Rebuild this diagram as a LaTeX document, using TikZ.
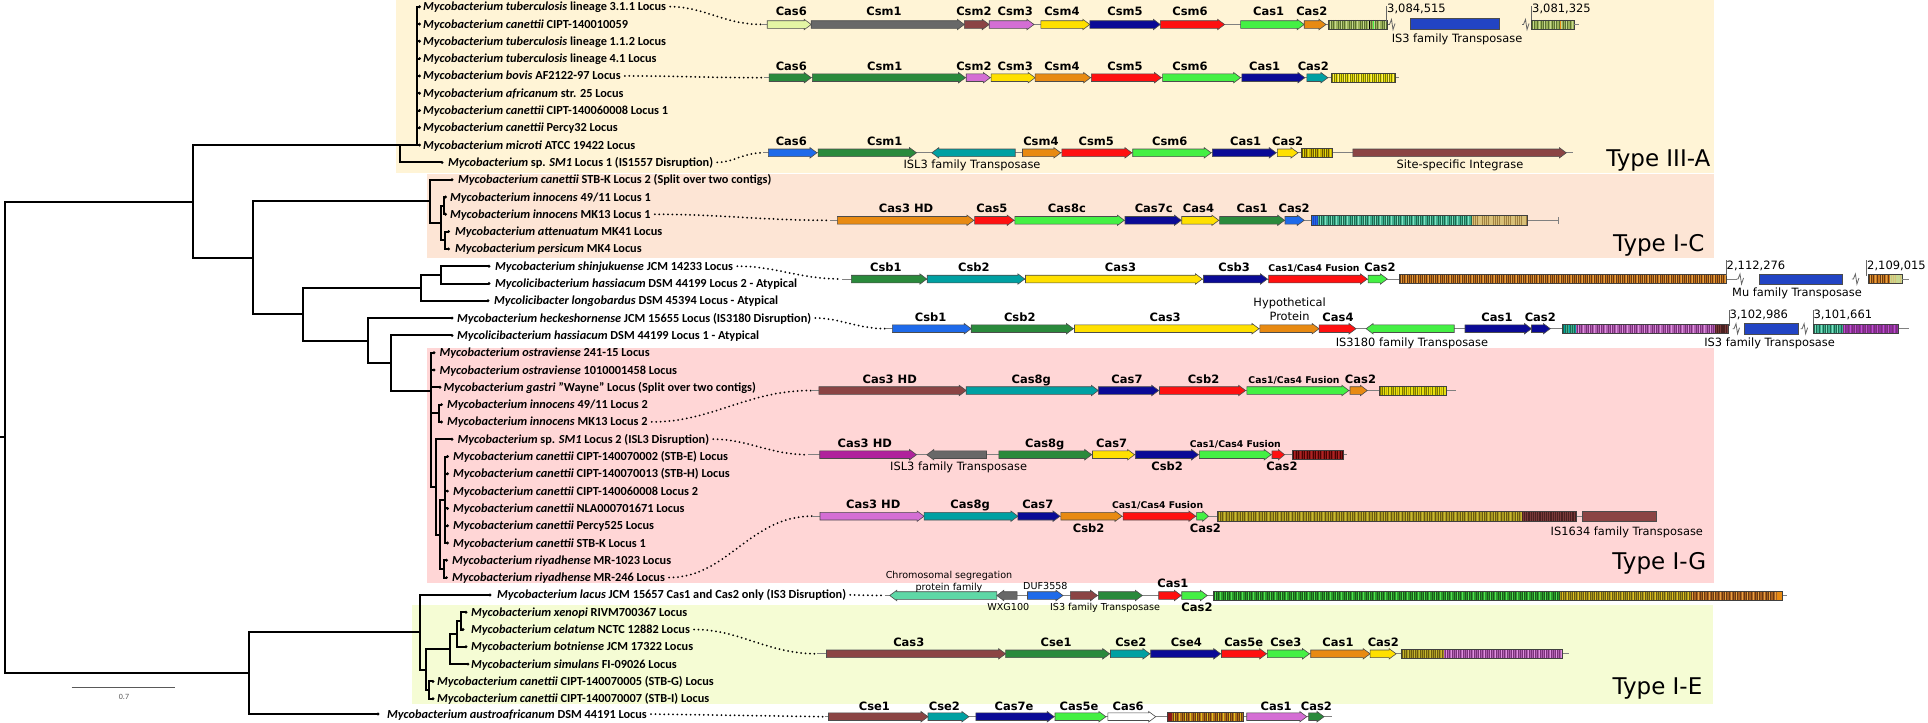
\documentclass[tikz,border=0pt]{standalone}
\usepackage{fontspec}
\setmainfont{Carlito}
\newfontfamily\dvs{DejaVu Sans}
\definecolor{bgA}{HTML}{FFF4D6}
\definecolor{bgC}{HTML}{FDE5D5}
\definecolor{bgG}{HTML}{FFD6D6}
\definecolor{bgE}{HTML}{F5FCD4}
\definecolor{cLYG}{HTML}{E4F5A4}
\definecolor{cGray}{HTML}{686868}
\definecolor{cBrn}{HTML}{8B4444}
\definecolor{cOrc}{HTML}{D46ED4}
\definecolor{cYel}{HTML}{FFE000}
\definecolor{cNavy}{HTML}{0A0A96}
\definecolor{cRed}{HTML}{FF1010}
\definecolor{cGrn}{HTML}{44F044}
\definecolor{cOra}{HTML}{E88A12}
\definecolor{cDkG}{HTML}{2A8A3C}
\definecolor{cTeal}{HTML}{00A0A2}
\definecolor{cBlue}{HTML}{1E6AEA}
\definecolor{cMag}{HTML}{B0229C}
\definecolor{cAqua}{HTML}{5ED8A6}
\definecolor{cIS}{HTML}{2244C4}
\definecolor{kOl}{HTML}{9CB25A}\definecolor{kOlD}{HTML}{5A7030}\definecolor{kOlL}{HTML}{C8D890}
\definecolor{kY}{HTML}{E8E010}\definecolor{kYD}{HTML}{7A7A00}\definecolor{kYL}{HTML}{FFF060}
\definecolor{kYO}{HTML}{C8B000}\definecolor{kYOD}{HTML}{6A5A00}
\definecolor{kTe}{HTML}{40B090}\definecolor{kTeD}{HTML}{1A6A50}\definecolor{kTeL}{HTML}{80E0C0}
\definecolor{kTan}{HTML}{D8C078}\definecolor{kTanD}{HTML}{A08040}
\definecolor{kOB}{HTML}{C87820}\definecolor{kOBD}{HTML}{6A3A10}\definecolor{kOBL}{HTML}{E8A040}
\definecolor{kPu}{HTML}{B060B0}\definecolor{kPuD}{HTML}{7A307A}\definecolor{kPuL}{HTML}{E090E0}
\definecolor{kVi}{HTML}{9030A0}\definecolor{kViL}{HTML}{C050D0}
\definecolor{kDB}{HTML}{4A2020}\definecolor{kDBL}{HTML}{7A3A3A}
\definecolor{kDR}{HTML}{8B1A1A}\definecolor{kDRD}{HTML}{4A0000}\definecolor{kDRL}{HTML}{B02020}
\definecolor{kOv}{HTML}{A89820}\definecolor{kOvD}{HTML}{6A5A10}\definecolor{kOvL}{HTML}{C8B830}
\definecolor{kG}{HTML}{2A9A2A}\definecolor{kGD}{HTML}{1A5A1A}\definecolor{kGL}{HTML}{50E050}
\definecolor{kBr}{HTML}{A86020}
\definecolor{kBrY}{HTML}{B07018}\definecolor{kBrYL}{HTML}{E0C020}

\newcommand{\gn}[4]{%
 \pgfmathsetmacro{\gnhd}{min(7,(#2-#1)*0.5)}\pgfmathsetmacro{\gnxp}{#2-\gnhd}%
 \filldraw[genebd,fill=#4] (#1,#3-3.8) -- (\gnxp,#3-3.8) -- (\gnxp,#3-5.2) -- (#2,#3) -- (\gnxp,#3+5.2) -- (\gnxp,#3+3.8) -- (#1,#3+3.8) -- cycle;}
\newcommand{\gnr}[4]{%
 \pgfmathsetmacro{\gnhd}{min(7,(#2-#1)*0.5)}\pgfmathsetmacro{\gnxp}{#1+\gnhd}%
 \filldraw[genebd,fill=#4] (#2,#3-3.8) -- (\gnxp,#3-3.8) -- (\gnxp,#3-5.2) -- (#1,#3) -- (\gnxp,#3+5.2) -- (\gnxp,#3+3.8) -- (#2,#3+3.8) -- cycle;}
\newcommand{\gbox}[4]{\filldraw[genebd,fill=#4] (#1,#3-5.2) rectangle (#2,#3+5.2);}
\newcommand{\crseg}[6]{%
 \pgfmathsetmacro{\crA}{#1+1.0}\pgfmathsetmacro{\crB}{#1+3.2}\pgfmathsetmacro{\crC}{#2-0.4}%
 \fill[#4] (#1,#3-4.6) rectangle (#2,#3+4.6);
 \foreach \s in {\crA,\crB,...,\crC}{\draw[#5,line width=0.6pt] (\s,#3-4.6) -- (\s,#3+4.6);}
 \pgfmathsetmacro{\crA}{#1+2.1}\pgfmathsetmacro{\crB}{#1+7.6}%
 \foreach \s in {\crA,\crB,...,\crC}{\draw[#6,line width=0.9pt] (\s,#3-4.6) -- (\s,#3+4.6);}}
\newcommand{\crbox}[3]{\draw[crbd] (#1,#3-4.6) rectangle (#2,#3+4.6);}
\newcommand{\glA}[3]{\node[glab] at (#1,#2-7.5) {#3};}
\newcommand{\glB}[3]{\node[glab] at (#1,#2+16) {#3};}
\newcommand{\glF}[3]{\node[flab] at (#1,#2-7.5) {#3};}
\newcommand{\brk}[2]{\draw[bbz] (#1,#2) -- (#1+1.5,#2) -- (#1+3.5,#2-5) -- (#1+5,#2+5) -- (#1+7,#2-1);}
\newcommand{\tck}[2]{\draw[bbz] (#1,#2-3) -- (#1,#2-19);}

\begin{document}
\begin{tikzpicture}[x=1pt,y=-1pt,
 br/.style={line width=2pt,black},
 leaf/.style={anchor=west,inner sep=0pt,font=\bfseries\fontsize{12.3}{14}\selectfont,text height=8pt,text depth=0pt},
 dots/.style={line width=2pt,dash pattern=on 0pt off 4.4pt,line cap=round,shorten <=4pt},
 genebd/.style={draw=black!70,line width=0.6pt,line join=miter},
 crbd/.style={draw=black!75,line width=0.6pt},
 bb/.style={draw=black!50,line width=0.9pt},
 bbz/.style={draw=black!60,line width=0.8pt},
 glab/.style={font={\dvs\bfseries\fontsize{11.5}{13}\selectfont},anchor=base,inner sep=0pt},
 flab/.style={font={\dvs\bfseries\fontsize{9.3}{11}\selectfont},anchor=base,inner sep=0pt},
 alab/.style={font={\dvs\fontsize{11.4}{13}\selectfont},anchor=base,inner sep=0pt},
 slab/.style={font={\dvs\fontsize{9.6}{11}\selectfont},anchor=base,inner sep=0pt},
 nlab/.style={font={\dvs\fontsize{11.5}{13}\selectfont},anchor=base west,inner sep=0pt},
 tlab/.style={font={\dvs\fontsize{23}{26}\selectfont},anchor=base east,inner sep=0pt}]
\useasboundingbox (0,0) rectangle (1928,723);
% ---------- backgrounds ----------
\fill[bgA] (396,0) rectangle (1714,173);
\fill[bgC] (427,174) rectangle (1714,258.3);
\fill[bgG] (427,347.5) rectangle (1714,583.3);
\fill[bgE] (412,605) rectangle (1713,704.3);
% ---------- tree nodes ----------
\coordinate (root) at (4.7,437.35);
\coordinate (nA) at (193,201.6);
\coordinate (nIIIA) at (400,145.1);
\coordinate (nTB) at (417,145.1);
\coordinate (nB) at (252.7,257.5);
\coordinate (nIC) at (430,201.4);
\coordinate (nICb) at (441,223);
\coordinate (nICc) at (443.5,205.65);
\coordinate (nICd) at (445,240.25);
\coordinate (nC) at (302.7,314.2);
\coordinate (nD) at (421,287.8);
\coordinate (nE) at (441,274.85);
\coordinate (nF) at (368.3,340.7);
\coordinate (nG) at (390.7,363.1);
\coordinate (nH) at (431,390.8);
\coordinate (nHb) at (436,487);
\coordinate (nQ) at (440,534.6);
\coordinate (nCan) at (445,499.75);
\coordinate (nRiy) at (444,568.95);
\coordinate (nInn) at (439,413.25);
\coordinate (nJ) at (249.3,673.1);
\coordinate (nK) at (420,632.2);
\coordinate (nL) at (426,669.5);
\coordinate (nM) at (450,649);
\coordinate (nN) at (457,633.8);
\coordinate (nP) at (461,620.85);
\coordinate (nPair) at (429,690.05);
\coordinate (rootstub) at (0,437.35);
% tips
\foreach \i/\yy in {0/6.7,1/24,2/41.3,3/58.6,4/75.9,5/93.2,6/110.5,7/127.8,8/145.1}{\coordinate (t\i) at (419.5,\yy);}
\coordinate (t9) at (442,162.4);
\coordinate (t10) at (452,179.7);
\coordinate (t11) at (445.5,197);\coordinate (t12) at (445.5,214.3);
\coordinate (t13) at (448.5,231.6);\coordinate (t14) at (448.5,248.9);
\coordinate (t15) at (489,266.2);\coordinate (t16) at (489,283.5);\coordinate (t17) at (488,300.8);
\coordinate (t18) at (452,318.1);\coordinate (t19) at (452,335.4);
\coordinate (t20) at (434,352.7);\coordinate (t21) at (434,370);\coordinate (t22) at (440,387.3);
\coordinate (t23) at (441.5,404.6);\coordinate (t24) at (441.5,421.9);
\coordinate (t25) at (452,439.2);
\foreach \i/\yy in {26/456.5,27/473.8,28/491.1,29/508.4,30/525.7,31/543}{\coordinate (t\i) at (447.5,\yy);}
\coordinate (t32) at (446.5,560.3);\coordinate (t33) at (446.5,577.6);
\coordinate (t34) at (490,594.9);
\coordinate (t35) at (466,612.2);\coordinate (t36) at (463,629.5);\coordinate (t37) at (466,646.8);\coordinate (t38) at (468,664.1);
\coordinate (t39) at (433,681.4);\coordinate (t40) at (433,698.7);
\coordinate (t41) at (378,714);
% edges
\draw[br] (rootstub) -- (root);
\foreach \p/\c in {root/nA,root/nJ,nA/nIIIA,nA/nB,nIIIA/nTB,nIIIA/t9,
  nB/nIC,nB/nC,nIC/t10,nIC/nICb,nICb/nICc,nICb/nICd,nICc/t11,nICc/t12,nICd/t13,nICd/t14,
  nC/nD,nC/nF,nD/nE,nD/t17,nE/t15,nE/t16,nF/t18,nF/nG,nG/t19,nG/nH,
  nH/t20,nH/t21,nH/t22,nH/nInn,nH/nHb,nInn/t23,nInn/t24,nHb/t25,nHb/nQ,nQ/nCan,nQ/nRiy,
  nCan/t26,nCan/t27,nCan/t28,nCan/t29,nCan/t30,nCan/t31,nRiy/t32,nRiy/t33,
  nJ/nK,nJ/t41,nK/t34,nK/nL,nL/nM,nL/nPair,nM/nN,nM/t38,nN/nP,nN/t37,nP/t35,nP/t36,nPair/t39,nPair/t40}
  {\draw[br] (\p) |- (\c);}
\foreach \i in {0,...,8}{\draw[br] (nTB) |- (t\i);}
\foreach \i in {0,...,41}{\fill (t\i) circle (1.6);}
% scale bar
\coordinate (sb1) at (71.7,687.4);\coordinate (sb2) at (175,687.4);
\draw[black!65,line width=0.9pt] (sb1) -- (sb2);
\node[font=\fontsize{8}{9}\selectfont,text=black!65,inner sep=0pt] (sbl) at (124,696.5) {0.7};
% ---------- leaf labels ----------
\node[leaf] (L0) at (423,6.7) {\textit{Mycobacterium tuberculosis} lineage 3.1.1 Locus};
\node[leaf] (L1) at (423,24) {\textit{Mycobacterium canettii} CIPT-140010059};
\node[leaf] (L2) at (423,41.3) {\textit{Mycobacterium tuberculosis} lineage 1.1.2 Locus};
\node[leaf] (L3) at (423,58.6) {\textit{Mycobacterium tuberculosis} lineage 4.1 Locus};
\node[leaf] (L4) at (423,75.9) {\textit{Mycobacterium bovis} AF2122-97 Locus};
\node[leaf] (L5) at (423,93.2) {\textit{Mycobacterium africanum} str. 25 Locus};
\node[leaf] (L6) at (423,110.5) {\textit{Mycobacterium canettii} CIPT-140060008 Locus 1};
\node[leaf] (L7) at (423,127.8) {\textit{Mycobacterium canettii} Percy32 Locus};
\node[leaf] (L8) at (423,145.1) {\textit{Mycobacterium microti} ATCC 19422 Locus};
\node[leaf] (L9) at (448,162.4) {\textit{Mycobacterium} sp. \textit{SM1} Locus 1 (IS1557 Disruption)};
\node[leaf] (L10) at (458,179.7) {\textit{Mycobacterium canettii} STB-K Locus 2 (Split over two contigs)};
\node[leaf] (L11) at (450,197) {\textit{Mycobacterium innocens} 49/11 Locus 1};
\node[leaf] (L12) at (450,214.3) {\textit{Mycobacterium innocens} MK13 Locus 1};
\node[leaf] (L13) at (455,231.6) {\textit{Mycobacterium attenuatum} MK41 Locus};
\node[leaf] (L14) at (455,248.9) {\textit{Mycobacterium persicum} MK4 Locus};
\node[leaf] (L15) at (495,266.2) {\textit{Mycobacterium shinjukuense} JCM 14233 Locus};
\node[leaf] (L16) at (495,283.5) {\textit{Mycolicibacterium hassiacum} DSM 44199 Locus 2 - Atypical};
\node[leaf] (L17) at (494,300.8) {\textit{Mycolicibacter longobardus} DSM 45394 Locus - Atypical};
\node[leaf] (L18) at (457,318.1) {\textit{Mycobacterium heckeshornense} JCM 15655 Locus (IS3180 Disruption)};
\node[leaf] (L19) at (457,335.4) {\textit{Mycolicibacterium hassiacum} DSM 44199 Locus 1 - Atypical};
\node[leaf] (L20) at (439.5,352.7) {\textit{Mycobacterium ostraviense} 241-15 Locus};
\node[leaf] (L21) at (439.5,370) {\textit{Mycobacterium ostraviense} 1010001458 Locus};
\node[leaf] (L22) at (443.5,387.3) {\textit{Mycobacterium gastri} "Wayne" Locus (Split over two contigs)};
\node[leaf] (L23) at (447,404.6) {\textit{Mycobacterium innocens} 49/11 Locus 2};
\node[leaf] (L24) at (447,421.9) {\textit{Mycobacterium innocens} MK13 Locus 2};
\node[leaf] (L25) at (457.5,439.2) {\textit{Mycobacterium} sp. \textit{SM1} Locus 2 (ISL3 Disruption)};
\node[leaf] (L26) at (453,456.5) {\textit{Mycobacterium canettii} CIPT-140070002 (STB-E) Locus};
\node[leaf] (L27) at (453,473.8) {\textit{Mycobacterium canettii} CIPT-140070013 (STB-H) Locus};
\node[leaf] (L28) at (453,491.1) {\textit{Mycobacterium canettii} CIPT-140060008 Locus 2};
\node[leaf] (L29) at (453,508.4) {\textit{Mycobacterium canettii} NLA000701671 Locus};
\node[leaf] (L30) at (453,525.7) {\textit{Mycobacterium canettii} Percy525 Locus};
\node[leaf] (L31) at (453,543) {\textit{Mycobacterium canettii} STB-K Locus 1};
\node[leaf] (L32) at (452,560.3) {\textit{Mycobacterium riyadhense} MR-1023 Locus};
\node[leaf] (L33) at (452,577.6) {\textit{Mycobacterium riyadhense} MR-246 Locus};
\node[leaf] (L34) at (497,594.9) {\textit{Mycobacterium lacus} JCM 15657 Cas1 and Cas2 only (IS3 Disruption)};
\node[leaf] (L35) at (471,612.2) {\textit{Mycobacterium xenopi} RIVM700367 Locus};
\node[leaf] (L36) at (471,629.5) {\textit{Mycobacterium celatum} NCTC 12882 Locus};
\node[leaf] (L37) at (471,646.8) {\textit{Mycobacterium botniense} JCM 17322 Locus};
\node[leaf] (L38) at (471,664.1) {\textit{Mycobacterium simulans} FI-09026 Locus};
\node[leaf] (L39) at (437,681.4) {\textit{Mycobacterium canettii} CIPT-140070005 (STB-G) Locus};
\node[leaf] (L40) at (437,698.7) {\textit{Mycobacterium canettii} CIPT-140070007 (STB-I) Locus};
\node[leaf] (L41) at (387,714) {\textit{Mycobacterium austroafricanum} DSM 44191 Locus};
% ---------- locus start points ----------
\coordinate (r1s) at (762,24.5);
\coordinate (r2s) at (764,77.7);
\coordinate (r3s) at (763,152.8);
\coordinate (ics) at (830.4,220.3);
\coordinate (b1s) at (841.8,279);
\coordinate (b2s) at (885.9,328.7);
\coordinate (g1s) at (811.2,390.5);
\coordinate (g2s) at (808.2,454.7);
\coordinate (g3s) at (812,516.2);
\coordinate (lcs) at (884.7,595.5);
\coordinate (ies) at (817,653.8);
\coordinate (aus) at (824.6,716.7);
% dotted connectors
\draw[dots] (L0.east) to[out=0,in=180] (r1s);
\draw[dots] (L4.east) to[out=0,in=180] (r2s);
\draw[dots] (L9.east) to[out=0,in=180] (r3s);
\draw[dots] (L12.east) to[out=0,in=180] (ics);
\draw[dots] (L15.east) to[out=0,in=180] (b1s);
\draw[dots] (L18.east) to[out=0,in=180] (b2s);
\draw[dots] (L24.east) to[out=0,in=180] (g1s);
\draw[dots] (L25.east) to[out=0,in=180] (g2s);
\draw[dots] (L33.east) to[out=0,in=180] (g3s);
\draw[dots] (L34.east) -- (lcs);
\draw[dots] (L36.east) to[out=0,in=180] (ies);
\draw[dots] (L41.east) -- (aus);
% ================= ROW 1 =================
\draw[bb] (r1s) -- (1387.3,24.5);
\gn{767.2}{811.2}{24.5}{cLYG}\gn{811.2}{964.3}{24.5}{cGray}\gn{964.3}{989.2}{24.5}{cBrn}
\gn{989.2}{1034}{24.5}{cOrc}\gn{1040.9}{1089.8}{24.5}{cYel}\gn{1089.8}{1160.3}{24.5}{cNavy}
\gn{1160.3}{1224.6}{24.5}{cRed}\gn{1240.6}{1304.2}{24.5}{cGrn}\gn{1304.2}{1326}{24.5}{cOra}
\glA{791.3}{22.5}{Cas6}\glA{884}{22.5}{Csm1}\glA{973.9}{22.5}{Csm2}\glA{1015.2}{22.5}{Csm3}
\glA{1061.9}{22.5}{Csm4}\glA{1125}{22.5}{Csm5}\glA{1190}{22.5}{Csm6}\glA{1268.6}{22.5}{Cas1}\glA{1311.8}{22.5}{Cas2}
\crseg{1328}{1387.3}{24.5}{kOl}{kOlD}{kOlL}
\draw[line width=1pt,cGrn] (1373,19.9) -- (1373,29.1);\draw[line width=1pt,black] (1369,19.9) -- (1369,29.1);
\crbox{1328}{1387.3}{24.5}
\tck{1386.5}{24.5}\node[nlab] at (1387,12.3) {3,084,515};
\brk{1388}{24.5}
\gbox{1410}{1499}{23.8}{cIS}
\node[alab] at (1457,42.8) {IS3 family Transposase};
\brk{1522}{24.5}
\tck{1531.5}{24.5}\node[nlab] at (1532,12.3) {3,081,325};
\crseg{1531.5}{1574.3}{24.5}{kOl}{kOlD}{kOlL}
\draw[line width=1pt,cOra] (1560,19.9) -- (1560,29.1);
\crbox{1531.5}{1574.3}{24.5}
\draw[bb] (1574.3,24.5) -- (1579,24.5);
% ================= ROW 2 =================
\draw[bb] (r2s) -- (1399.3,77.7);
\gn{769.1}{811.2}{77.7}{cDkG}\gn{812.4}{965.5}{77.7}{cDkG}\gn{966.2}{990.3}{77.7}{cOrc}
\gn{991.1}{1035.1}{77.7}{cYel}\gn{1035.1}{1090.6}{77.7}{cOra}\gn{1091.4}{1161.4}{77.7}{cRed}
\gn{1162.6}{1240.6}{77.7}{cGrn}\gn{1241.8}{1304.9}{77.7}{cNavy}\gn{1306.8}{1327.9}{77.7}{cTeal}
\glA{791.3}{77.7}{Cas6}\glA{884.7}{77.7}{Csm1}\glA{973.9}{77.7}{Csm2}\glA{1015.2}{77.7}{Csm3}
\glA{1061.9}{77.7}{Csm4}\glA{1125}{77.7}{Csm5}\glA{1190}{77.7}{Csm6}\glA{1264.7}{77.7}{Cas1}\glA{1313.3}{77.7}{Cas2}
\crseg{1331.2}{1394.9}{77.7}{kY}{kYD}{kYL}\crbox{1331.2}{1394.9}{77.7}
% ================= ROW 3 =================
\draw[bb] (r3s) -- (1573,152.8);
\gn{768.4}{817}{152.8}{cBlue}\gn{818.1}{916.5}{152.8}{cDkG}\gnr{931.8}{1015.2}{152.8}{cTeal}
\gn{1022.5}{1060.8}{152.8}{cOra}\gn{1061.9}{1131.9}{152.8}{cRed}\gn{1132.7}{1211.2}{152.8}{cGrn}
\gn{1212.3}{1276.2}{152.8}{cNavy}\gn{1277.4}{1298}{152.8}{cYel}
\glA{791.3}{152.8}{Cas6}\glA{884.7}{152.8}{Csm1}\glA{1040.9}{152.8}{Csm4}\glA{1096.3}{152.8}{Csm5}
\glA{1169.8}{152.8}{Csm6}\glA{1245.6}{152.8}{Cas1}\glA{1287.7}{152.8}{Cas2}
\node[alab] at (972,168.5) {ISL3 family Transposase};
\crseg{1301.1}{1332.5}{152.8}{kYO}{kYOD}{kY}\crbox{1301.1}{1332.5}{152.8}
\gn{1352.9}{1566.3}{152.8}{cBrn}
\node[alab] at (1460,168) {Site-specific Integrase};
\node[tlab] at (1710.5,166) {Type III-A};
% ================= TYPE I-C =================
\draw[bb] (ics) -- (1558.3,220.3);\draw[bb] (1558.3,217) -- (1558.3,223.6);
\gn{837.3}{973.9}{220.3}{cOra}\gn{974.6}{1014.1}{220.3}{cRed}\gn{1014.8}{1124.3}{220.3}{cGrn}
\gn{1125}{1181.3}{220.3}{cNavy}\gn{1181.7}{1218.8}{220.3}{cYel}\gn{1219.6}{1284.6}{220.3}{cDkG}
\gn{1285}{1304.2}{220.3}{cBlue}
\glA{906.1}{220.3}{Cas3 HD}\glA{991.9}{220.3}{Cas5}\glA{1066.9}{220.3}{Cas8c}\glA{1153.7}{220.3}{Cas7c}
\glA{1198.5}{220.3}{Cas4}\glA{1252.1}{220.3}{Cas1}\glA{1294.2}{220.3}{Cas2}
\crseg{1311.2}{1318}{220.3}{cIS}{cBlue}{cIS}
\crseg{1318}{1472}{220.3}{kTe}{kTeD}{kTeL}
\crseg{1472}{1527.5}{220.3}{kTan}{kTanD}{kTan}
\crbox{1311.2}{1527.5}{220.3}
\node[tlab] at (1704.5,251.7) {Type I-C};
% ================= Csb row 1 =================
\draw[bb] (b1s) -- (1736.5,279);
\gn{851.4}{926.8}{279}{cDkG}\gn{927.2}{1024.8}{279}{cTeal}\gn{1025.5}{1202.4}{279}{cYel}
\gn{1203.5}{1267.4}{279}{cNavy}\gn{1268.6}{1367.3}{279}{cRed}\gn{1368.1}{1387.3}{279}{cGrn}
\glA{885.9}{279}{Csb1}\glA{973.9}{279}{Csb2}\glA{1120.5}{279}{Cas3}\glA{1234.1}{279}{Csb3}
\glF{1314}{279}{Cas1/Cas4 Fusion}\glA{1380}{279}{Cas2}
\crseg{1399.3}{1726.5}{279}{kOB}{kOBD}{kOBL}\crbox{1399.3}{1726.5}{279}
\tck{1726.5}{279}\node[nlab] at (1726.5,269) {2,112,276};
\brk{1736.5}{279}
\gbox{1759.7}{1841.8}{279}{cIS}
\node[alab] at (1797,296) {Mu family Transposase};
\brk{1851.9}{279}
\tck{1866.7}{279}\node[nlab] at (1867,269) {2,109,015};
\crseg{1867.9}{1890}{279}{kOB}{kOBD}{kOBL}
\crseg{1890}{1901.9}{279}{kOlL}{kTan}{kOlL}
\crbox{1867.9}{1901.9}{279}
\draw[bb] (1901.9,279) -- (1908.7,279);
% ================= Csb row 2 =================
\draw[bb] (b2s) -- (1729.3,328.7);
\gn{892.4}{971.2}{328.7}{cBlue}\gn{971.2}{1073.4}{328.7}{cDkG}\gn{1074.5}{1259}{328.7}{cYel}
\gn{1259.8}{1319.1}{328.7}{cOra}\gn{1319.1}{1356}{328.7}{cRed}\gnr{1366.1}{1454.2}{328.7}{cGrn}
\gn{1465}{1531.5}{328.7}{cNavy}\gn{1531.5}{1550.3}{328.7}{cNavy}
\glA{930.6}{328.7}{Csb1}\glA{1019.8}{328.7}{Csb2}\glA{1165.2}{328.7}{Cas3}\glA{1338}{328.7}{Cas4}
\glA{1497}{328.7}{Cas1}\glA{1540.3}{328.7}{Cas2}
\node[alab] at (1289.6,306.7) {Hypothetical};
\node[alab] at (1289.6,320.7) {Protein};
\node[alab] at (1412,346) {IS3180 family Transposase};
\crseg{1562.3}{1576}{328.7}{kTe}{kTeD}{cTeal}
\crseg{1576}{1715}{328.7}{kPu}{kPuD}{kPuL}
\crseg{1715}{1728.5}{328.7}{kDB}{kDBL}{kDB}
\crbox{1562.3}{1728.5}{328.7}
\tck{1729.3}{328.7}\node[nlab] at (1729.3,318.3) {3,102,986};
\brk{1732.5}{328.7}
\gbox{1744.5}{1798.6}{328.7}{cIS}
\brk{1800.6}{328.7}
\tck{1813.4}{328.7}\node[nlab] at (1813.4,318.3) {3,101,661};
\crseg{1813.4}{1842.5}{328.7}{kTe}{kTeD}{kTeL}
\crseg{1842.5}{1898.7}{328.7}{kVi}{kPuD}{kViL}
\crbox{1813.4}{1898.7}{328.7}
\draw[bb] (1898.7,328.7) -- (1908.7,328.7);
\node[alab] at (1769.6,346.7) {IS3 family Transposase};
% ================= I-G row 1 =================
\draw[bb] (g1s) -- (1456.2,390.5);
\gn{818.9}{966.2}{390.5}{cBrn}\gn{966.2}{1098.3}{390.5}{cTeal}\gn{1098.3}{1158.7}{390.5}{cNavy}
\gn{1159.5}{1245.6}{390.5}{cRed}\gn{1246.8}{1348.9}{390.5}{cGrn}\gn{1350}{1367.3}{390.5}{cOra}
\glA{889.7}{390.5}{Cas3 HD}\glA{1031.3}{390.5}{Cas8g}\glA{1127}{390.5}{Cas7}\glA{1203.5}{390.5}{Csb2}
\glF{1294}{390.5}{Cas1/Cas4 Fusion}\glA{1360.5}{390.5}{Cas2}
\crseg{1378.9}{1446.2}{390.5}{kY}{kYD}{kYO}\crbox{1378.9}{1446.2}{390.5}
% ================= I-G row 2 =================
\draw[bb] (g2s) -- (1347.3,454.7);
\gn{819.7}{916.5}{454.7}{cMag}\gnr{926.8}{986.5}{454.7}{cGray}\gn{998.8}{1091.7}{454.7}{cDkG}
\gn{1092.5}{1134.6}{454.7}{cYel}\gn{1135.4}{1198.5}{454.7}{cNavy}\gn{1199.3}{1271.2}{454.7}{cGrn}
\gn{1272}{1284.6}{454.7}{cRed}
\glA{864.8}{454.7}{Cas3 HD}\glA{1044.7}{454.7}{Cas8g}\glA{1111.7}{454.7}{Cas7}
\glF{1235.3}{454.7}{Cas1/Cas4 Fusion}
\glB{1167.1}{454.7}{Csb2}\glB{1282}{454.7}{Cas2}
\node[alab] at (958.6,470) {ISL3 family Transposase};
\crseg{1292.7}{1342.9}{454.7}{kDR}{kDRD}{kDRL}\crbox{1292.7}{1342.9}{454.7}
% ================= I-G row 3 =================
\draw[bb] (g3s) -- (1582.3,516.2);
\gn{820}{924.1}{516.2}{cOrc}\gn{924.1}{1017.9}{516.2}{cTeal}\gn{1017.9}{1060}{516.2}{cNavy}
\gn{1060.8}{1122}{516.2}{cOra}\gn{1123.1}{1195.8}{516.2}{cRed}\gn{1196.6}{1208.5}{516.2}{cGrn}
\glA{873.2}{516.2}{Cas3 HD}\glA{970.1}{516.2}{Cas8g}\glA{1037.8}{516.2}{Cas7}
\glF{1157.6}{516.2}{Cas1/Cas4 Fusion}
\glB{1088.7}{516.2}{Csb2}\glB{1205.4}{516.2}{Cas2}
\crseg{1216.9}{1522.3}{516.2}{kOv}{kOvD}{kOvL}
\crseg{1522.3}{1576.3}{516.2}{kDB}{kDBL}{kDB}
\crbox{1216.9}{1576.3}{516.2}
\gbox{1582.3}{1656.4}{516.2}{cBrn}
\node[alab] at (1626.8,535.7) {IS1634 family Transposase};
\node[tlab] at (1706.5,569.3) {Type I-G};
% ================= lacus row =================
\draw[bb] (lcs) -- (1786.6,595.5);
\gnr{889.7}{996.8}{595.5}{cAqua}\gnr{996.8}{1017.1}{595.5}{cGray}\gn{1027.5}{1063}{595.5}{cBlue}
\gn{1070.3}{1097.5}{595.5}{cBrn}\gn{1098.3}{1142.3}{595.5}{cDkG}
\gn{1158.7}{1181.3}{595.5}{cRed}\gn{1181.7}{1207.3}{595.5}{cGrn}
\node[slab] at (949,578) {Chromosomal segregation};
\node[slab] at (949,590) {protein family};
\node[slab] at (1008.3,610) {WXG100};
\node[slab] at (1045.4,589.3) {DUF3558};
\node[slab] at (1105.1,610) {IS3 family Transposase};
\node[glab] at (1172.9,587.7) {Cas1};
\node[glab] at (1197,611) {Cas2};
\crseg{1213.1}{1560.3}{595.5}{kG}{kGD}{kGL}
\crseg{1560.3}{1690.5}{595.5}{kOv}{kOvD}{kBrYL}
\crseg{1690.5}{1776.6}{595.5}{kBr}{kOBD}{kOBL}
\fill[cOra] (1776.6,590.9) rectangle (1782.6,600.1);
\crbox{1213.1}{1782.6}{595.5}
% ================= I-E row =================
\draw[bb] (ies) -- (1569.1,653.8);
\gn{826.5}{1005.6}{653.8}{cBrn}\gn{1005.6}{1109.7}{653.8}{cDkG}\gn{1110.5}{1149.9}{653.8}{cTeal}
\gn{1150.7}{1220.7}{653.8}{cNavy}\gn{1221.5}{1266.6}{653.8}{cRed}\gn{1267.4}{1309.5}{653.8}{cGrn}
\gn{1310.7}{1370.1}{653.8}{cOra}\gn{1370.1}{1396.1}{653.8}{cYel}
\glA{908.8}{653.8}{Cas3}\glA{1056.2}{653.8}{Cse1}\glA{1130.8}{653.8}{Cse2}\glA{1186.3}{653.8}{Cse4}
\glA{1243.7}{653.8}{Cas5e}\glA{1285.8}{653.8}{Cse3}\glA{1338}{653.8}{Cas1}\glA{1383.3}{653.8}{Cas2}
\crseg{1401.3}{1444.2}{653.8}{kOv}{kOvD}{kOvL}
\crseg{1444.2}{1562.3}{653.8}{kPu}{kPuD}{kPuL}
\crbox{1401.3}{1562.3}{653.8}
\node[tlab] at (1702.5,694.3) {Type I-E};
% ================= austroafricanum row =================
\draw[bb] (aus) -- (1331.7,716.7);
\gn{828.5}{928}{716.7}{cBrn}\gn{928}{968.9}{716.7}{cTeal}\gn{975.8}{1054.2}{716.7}{cNavy}
\gn{1055}{1105.9}{716.7}{cGrn}\gn{1107.8}{1155.7}{716.7}{white}
\gn{1246.7}{1306.8}{716.7}{cOrc}\gn{1308.7}{1324}{716.7}{cDkG}
\glA{874.4}{717.7}{Cse1}\glA{944.4}{717.7}{Cse2}\glA{1014.1}{717.7}{Cas7e}\glA{1079.1}{717.7}{Cas5e}
\glA{1128.1}{717.7}{Cas6}\glA{1276.2}{717.7}{Cas1}\glA{1316.4}{717.7}{Cas2}
\fill[kDR] (1167.1,712.1) rectangle (1172,721.3);
\crseg{1172}{1242.9}{716.7}{kBrY}{kOBD}{kBrYL}
\crbox{1167.1}{1242.9}{716.7}
\end{tikzpicture}
\end{document}
